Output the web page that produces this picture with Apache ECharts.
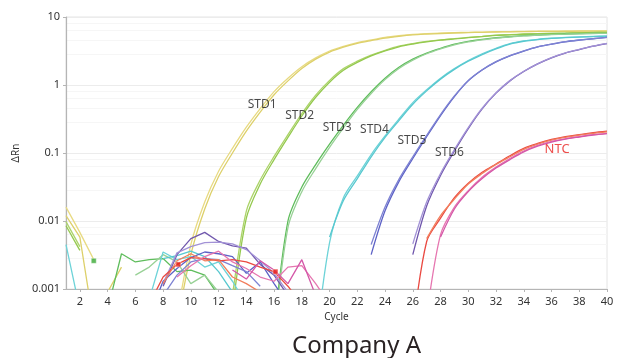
<!DOCTYPE html>
<html>
<head>
<meta charset="utf-8">
<script src="https://cdn.jsdelivr.net/npm/echarts@6/dist/echarts.min.js"></script>
<style>
html,body{margin:0;padding:0;background:#fff;}
#chart{width:621px;height:358px;}
</style>
</head>
<body>
<div id="chart"></div>
<script>
// Cycle numbers (x values)
var cycles = [1,2,3,4,5,6,7,8,9,10,11,12,13,14,15,16,17,18,19,20,21,22,23,24,25,26,27,28,29,30,31,32,33,34,35,36,37,38,39,40];
var xTickLabels = [2,4,6,8,10,12,14,16,18,20,22,24,26,28,30,32,34,36,38,40];

// ΔRn values per replicate (null = not plotted, e.g. negative ΔRn)
var std1a = [0.016,0.0068,0.0027,null,null,null,null,null,0.0004,0.0045,0.019,0.054,0.117,0.24,0.45,0.8,1.26,1.86,2.5,3.16,3.7,4.2,4.6,5.0,5.3,5.55,5.7,5.8,5.88,5.95,6.0,6.08,6.1,6.15,6.17,6.2,6.2,6.22,6.22,6.23];
var std1b = [0.012,0.0058,0.0003,0.0009,0.0021,null,null,null,0.0003,0.0032,0.015,0.045,0.1,0.21,0.4,0.72,1.15,1.75,2.4,3.05,3.6,4.1,4.5,4.9,5.2,5.45,5.6,5.72,5.82,5.9,5.96,6.02,6.06,6.1,6.13,6.15,6.17,6.18,6.19,6.2];
var std2a = [0.0098,0.0042,null,null,null,null,null,null,null,null,null,null,0.0008,0.014,0.04,0.089,0.186,0.38,0.71,1.17,1.74,2.24,2.75,3.24,3.72,4.07,4.37,4.62,4.8,5.0,5.2,5.43,5.5,5.62,5.7,5.75,5.8,5.89,5.92,5.96];
var std2b = [0.0085,0.0037,null,null,null,null,null,null,null,null,null,null,0.0005,0.011,0.035,0.08,0.17,0.35,0.66,1.1,1.65,2.15,2.68,3.17,3.65,4.0,4.3,4.56,4.76,4.96,5.15,5.38,5.46,5.58,5.66,5.72,5.78,5.86,5.9,5.94];
var std3a = [null,null,null,0.0005,0.0033,0.0025,0.0027,0.0028,0.0018,0.0019,0.0016,0.0008,null,null,null,0.00025,0.01,0.0316,0.0676,0.135,0.257,0.468,0.794,1.26,1.82,2.4,2.95,3.47,3.98,4.37,4.68,4.95,5.13,5.31,5.43,5.56,5.62,5.69,5.75,5.75];
var std3b = [null,null,null,null,null,0.0016,0.0021,0.0032,0.0025,0.0012,0.0016,0.0009,null,null,null,0.0002,0.008,0.027,0.059,0.121,0.234,0.437,0.75,1.2,1.75,2.32,2.88,3.4,3.9,4.3,4.62,4.9,5.08,5.27,5.4,5.52,5.59,5.66,5.72,5.73];
var std4a = [0.0045,0.0005,null,null,null,null,0.0007,0.0035,0.0027,0.003,0.0021,0.0025,0.0013,0.0006,null,null,null,null,0.00016,0.0048,0.022,0.046,0.095,0.178,0.316,0.55,0.85,1.26,1.74,2.29,2.88,3.47,4.07,4.45,4.7,4.87,5.0,5.1,5.18,5.25];
var std4b = [null,null,null,null,null,null,null,0.0028,0.0031,0.0036,0.003,0.0018,0.0009,null,null,null,null,null,null,0.0058,0.02,0.042,0.088,0.17,0.3,0.52,0.82,1.22,1.7,2.24,2.8,3.4,4.0,4.4,4.66,4.84,4.97,5.07,5.16,5.22];
var std5a = [null,null,null,null,null,null,0.0004,0.0013,0.002,0.0029,0.0035,0.0033,0.003,0.0017,0.0025,0.0012,0.0006,null,null,null,null,null,0.0032,0.0141,0.038,0.083,0.174,0.355,0.676,1.15,1.66,2.19,2.69,3.16,3.63,3.98,4.32,4.57,4.79,5.01];
var std5b = [null,null,null,null,null,null,null,0.0008,0.0016,0.0025,0.0028,0.0027,0.0022,0.0018,0.0011,null,null,null,null,null,null,null,0.0045,0.016,0.041,0.088,0.182,0.368,0.69,1.17,1.68,2.21,2.71,3.18,3.65,4.0,4.34,4.59,4.81,5.03];
var std6a = [null,null,null,null,null,null,null,0.0011,0.0032,0.0055,0.0068,0.005,0.0043,0.004,0.0023,0.0016,0.0008,null,null,null,null,null,null,null,null,0.0032,0.0166,0.0468,0.107,0.229,0.447,0.759,1.15,1.58,2.04,2.51,2.95,3.31,3.72,4.07];
var std6b = [null,null,null,null,null,null,null,0.0012,0.0034,0.0042,0.0048,0.0049,0.0046,0.0038,0.0026,0.0017,0.0009,null,null,null,null,null,null,null,null,0.0046,0.019,0.05,0.112,0.236,0.455,0.768,1.16,1.59,2.05,2.52,2.96,3.33,3.74,4.1];
var ntcA = [null,null,null,null,null,null,0.0006,0.0015,0.0023,0.0029,0.0028,0.0026,0.0027,0.0025,0.0021,0.0018,0.0011,0.0006,null,null,null,null,null,null,null,0.00025,0.005,0.011,0.022,0.036,0.052,0.069,0.091,0.117,0.138,0.158,0.174,0.186,0.2,0.21];
var ntcB = [null,null,null,null,null,null,null,0.0012,0.0026,0.0033,0.0026,0.0027,0.0015,0.0012,0.0009,null,null,null,null,null,null,null,null,null,null,null,0.0055,0.012,0.021,0.035,0.05,0.068,0.088,0.113,0.135,0.155,0.17,0.183,0.195,0.205];
var ntcC = [null,null,null,null,null,null,null,null,0.0015,0.0022,0.003,0.0036,0.0025,0.002,0.0015,0.0013,0.0021,0.0022,0.0012,0.0006,null,null,null,null,null,null,0.0004,0.0063,0.016,0.028,0.044,0.062,0.083,0.107,0.129,0.148,0.162,0.174,0.186,0.195];
var ntcD = [null,null,null,null,null,null,null,null,null,null,null,null,0.0019,0.0014,0.0026,0.0019,0.0012,0.0027,0.0008,null,null,null,null,null,null,null,null,0.0058,0.015,0.027,0.042,0.06,0.08,0.104,0.126,0.145,0.16,0.172,0.184,0.193];

// Curve labels
var labelNames = ['STD1','STD2','STD3','STD4','STD5','STD6','NTC'];
var labelCycles = [14.1,16.8,19.5,22.2,24.9,27.6,35.5];
var labelValues = [0.52,0.35,0.24,0.22,0.15,0.10,0.113];

// Baseline markers
var markerCycles = [3,9.1,16.1];
var markerValues = [0.0026,0.0023,0.0018];

var curves = [
  {d: std1a, c: '#e8da82'}, {d: std1b, c: '#ddd06a'},
  {d: std2a, c: '#add46a'}, {d: std2b, c: '#94c94e'},
  {d: std3a, c: '#5fbd5c'}, {d: std3b, c: '#98d196'},
  {d: std4a, c: '#6dd3d8'}, {d: std4b, c: '#58c8cf'},
  {d: std5a, c: '#5d62c6'}, {d: std5b, c: '#7e83d3'},
  {d: std6a, c: '#7057ad'}, {d: std6b, c: '#a292d6'},
  {d: ntcA, c: '#ea4a42'}, {d: ntcB, c: '#f27e5c'},
  {d: ntcC, c: '#e676b0'}, {d: ntcD, c: '#d457a8'}
];

function lineSeries(vals, color, smooth) {
  return {
    type: 'line',
    data: cycles.map(function (x, i) { return [x, vals[i] == null ? '-' : vals[i]]; }),
    showSymbol: false,
    symbol: 'none',
    connectNulls: false,
    smooth: smooth,
    clip: true,
    lineStyle: {width: 1.3, color: color},
    itemStyle: {color: color},
    silent: true,
    animation: false
  };
}

var series = [];
curves.forEach(function (s) {
  // the amplification curve is the last unbroken run; everything before it is baseline noise
  var start = s.d.length - 1;
  while (start > 0 && s.d[start - 1] != null) { start--; }
  var noise = s.d.map(function (v, i) { return i < start ? v : null; });
  var amp = s.d.map(function (v, i) { return i >= start ? v : null; });
  series.push(lineSeries(noise, s.c, false));
  series.push(lineSeries(amp, s.c, 0.3));
});

series.push({
  type: 'scatter',
  data: markerCycles.map(function (x, i) { return [x, markerValues[i]]; }),
  symbol: 'rect',
  symbolSize: 5,
  itemStyle: {
    color: function (p) { return p.dataIndex === 0 ? '#3aa935' : '#e8201a'; },
    borderColor: '#ffffff', borderWidth: 0.5
  },
  animation: false,
  z: 5
});

series.push({
  type: 'scatter',
  data: labelCycles.map(function (x, i) {
    var item = {name: labelNames[i], value: [x, labelValues[i]]};
    if (labelNames[i] === 'NTC') { item.label = {color: '#e8221f', fontSize: 13}; }
    return item;
  }),
  symbolSize: 0,
  label: {
    show: true,
    position: 'right',
    distance: 0,
    formatter: '{b}',
    fontFamily: 'Noto Sans',
    fontSize: 12,
    color: '#1a1a1a'
  },
  animation: false,
  z: 6
});

var chart = echarts.init(document.getElementById('chart'), null, {renderer: 'canvas'});
chart.setOption({
  backgroundColor: '#ffffff',
  animation: false,
  textStyle: {fontFamily: 'Noto Sans'},
  title: {
    text: 'Company A',
    left: 287,
    top: 329,
    textStyle: {fontSize: 24, fontWeight: 'normal', color: '#2a2324', fontFamily: 'Noto Sans'}
  },
  grid: {
    left: 66, right: 14, top: 17, bottom: 69,
    show: true, borderColor: '#e4e4e4', borderWidth: 1, backgroundColor: 'transparent'
  },
  xAxis: {
    type: 'value',
    min: 1, max: 40, interval: 1,
    name: 'Cycle',
    nameLocation: 'middle',
    nameGap: 22,
    nameTextStyle: {fontSize: 10, color: '#333'},
    axisLine: {show: true, lineStyle: {color: '#b5b5b5', width: 1.2}},
    axisTick: {show: true, length: 3, customValues: xTickLabels, lineStyle: {color: '#b5b5b5'}},
    axisLabel: {customValues: xTickLabels, fontSize: 11, color: '#333', margin: 7},
    splitLine: {show: false}
  },
  yAxis: {
    type: 'log',
    logBase: 10,
    min: 0.001, max: 10,
    name: 'ΔRn',
    nameLocation: 'middle',
    nameGap: 42,
    nameRotate: 90,
    nameTextStyle: {fontSize: 10, color: '#333'},
    axisLine: {show: true, lineStyle: {color: '#b5b5b5', width: 1.2}},
    axisTick: {show: true, length: 3, lineStyle: {color: '#b5b5b5'}},
    axisLabel: {fontSize: 11, color: '#333', margin: 6,
      formatter: function (v) { return String(+v.toPrecision(3)); }},
    splitLine: {show: true, lineStyle: {color: '#ececec'}},
    minorTick: {show: false},
    minorSplitLine: {show: true, lineStyle: {color: '#f6f6f6'}}
  },
  series: series
});
</script>
</body>
</html>
